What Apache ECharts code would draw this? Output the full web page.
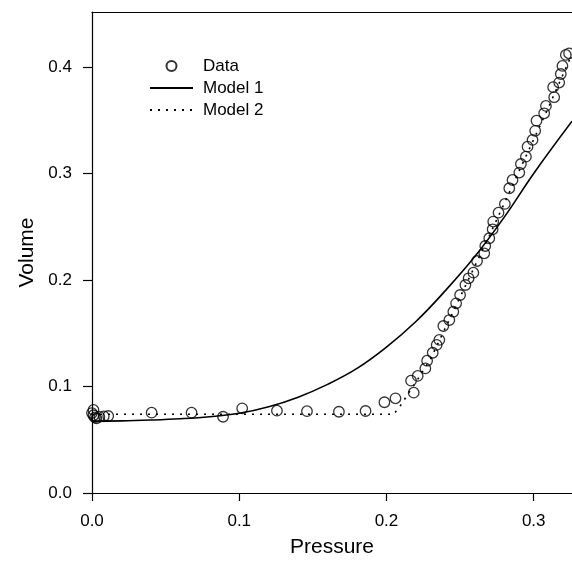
<!DOCTYPE html>
<html>
<head>
<meta charset="utf-8">
<script src="https://cdn.jsdelivr.net/npm/echarts@6/dist/echarts.min.js"></script>
<style>
  html, body { margin: 0; padding: 0; background: #fff; }
  #chart { width: 572px; height: 568px; }
</style>
</head>
<body>
<div id="chart"></div>
<script>
// measured data points (pressure, volume)
var dataP = [0.000, 0.001, 0.001, 0.002, 0.003, 0.005, 0.008, 0.011,
    0.0405, 0.0676, 0.089, 0.102, 0.1256, 0.146, 0.1677, 0.1858,
    0.1986, 0.2061, 0.2185, 0.2167, 0.2212, 0.2264, 0.2276, 0.2314,
    0.2341, 0.2359, 0.2386, 0.2427, 0.2454, 0.2473, 0.2500, 0.2536,
    0.2558, 0.2590, 0.2615, 0.2664, 0.2671, 0.2698, 0.2721, 0.2725,
    0.2761, 0.2804, 0.2834, 0.2856, 0.2902, 0.2913, 0.2947, 0.2958,
    0.2992, 0.3010, 0.3019, 0.3071, 0.3083, 0.3139, 0.3132, 0.3173,
    0.3184, 0.3195, 0.3218, 0.3240];
var dataV = [0.075, 0.078, 0.073, 0.071, 0.070, 0.0715, 0.072, 0.0723,
    0.0754, 0.0754, 0.0716, 0.0795, 0.0773, 0.0768, 0.0763, 0.077,
    0.0852, 0.0889, 0.0942, 0.1055, 0.1099, 0.117, 0.1242, 0.1317,
    0.139, 0.1437, 0.1568, 0.1624, 0.1702, 0.1781, 0.1859, 0.1953,
    0.2016, 0.2069, 0.2178, 0.2250, 0.2319, 0.2392, 0.2476, 0.2548,
    0.2632, 0.2714, 0.2861, 0.2939, 0.3008, 0.3089, 0.3158, 0.3252,
    0.3315, 0.3400, 0.3496, 0.3565, 0.3634, 0.3716, 0.3810, 0.3853,
    0.3934, 0.4010, 0.4113, 0.4128];

// Model 1 curve
var model1P = [0, 0.02, 0.04, 0.06, 0.08, 0.10, 0.12, 0.14, 0.16, 0.18,
    0.20, 0.22, 0.24, 0.26, 0.28, 0.30, 0.326];
var model1V = [0.0675, 0.0677, 0.0685, 0.0697, 0.0716, 0.0748, 0.081, 0.090,
    0.102, 0.117, 0.137, 0.161, 0.190, 0.222, 0.259, 0.300, 0.349];

// Model 2 curve
var model2P = [0, 0.205, 0.21, 0.215, 0.22, 0.23, 0.25, 0.27, 0.29, 0.31, 0.326];
var model2V = [0.074, 0.074, 0.083, 0.094, 0.104, 0.126, 0.184, 0.242, 0.302, 0.362, 0.412];

var xTicks = [0, 0.1, 0.2, 0.3];
var yTicks = [0, 0.1, 0.2, 0.3, 0.4];

function pairs(xs, ys) {
    return xs.map(function (x, i) { return [x, ys[i]]; });
}

var font = 'Liberation Sans, Arial, sans-serif';
var chart = echarts.init(document.getElementById('chart'));

var option = {
    animation: false,
    backgroundColor: '#fff',
    grid: { left: 92, top: 12, right: 0, bottom: 75 },
    legend: {
        orient: 'vertical',
        left: 144,
        top: 52,
        itemWidth: 43,
        itemHeight: 10,
        itemGap: 4,
        textStyle: { fontFamily: font, fontSize: 17, lineHeight: 18, color: '#000', padding: [0, 0, 0, 5] },
        data: [
            'Data',
            { name: 'Model 1', itemStyle: { opacity: 0 } },
            { name: 'Model 2', itemStyle: { opacity: 0 } }
        ]
    },
    xAxis: [{
        type: 'value',
        min: 0,
        max: 0.326,
        interval: 0.1,
        name: 'Pressure',
        nameLocation: 'middle',
        nameGap: 44,
        nameTextStyle: { fontFamily: font, fontSize: 21, color: '#000' },
        splitLine: { show: false },
        axisLine: { lineStyle: { color: '#000', width: 1.2 } },
        axisTick: { inside: false, length: 8, lineStyle: { color: '#000', width: 1.2 } },
        axisLabel: {
            fontFamily: font, fontSize: 17, color: '#000', margin: 20,
            showMaxLabel: false,
            formatter: function (v) {
                return xTicks.some(function (t) { return Math.abs(t - v) < 1e-9; }) ? v.toFixed(1) : '';
            }
        }
    }, {
        type: 'value',
        position: 'top',
        min: 0,
        max: 0.326,
        axisLine: { show: true, lineStyle: { color: '#000', width: 1.2 } },
        axisTick: { show: false },
        axisLabel: { show: false },
        splitLine: { show: false }
    }],
    yAxis: {
        type: 'value',
        min: 0,
        max: 0.4516,
        interval: 0.1,
        name: 'Volume',
        nameLocation: 'middle',
        nameGap: 51,
        nameTextStyle: { fontFamily: font, fontSize: 21, color: '#000' },
        splitLine: { show: false },
        axisLine: { show: true, lineStyle: { color: '#000', width: 1.2 } },
        axisTick: { show: true, length: 9, lineStyle: { color: '#000', width: 1.2 } },
        axisLabel: {
            fontFamily: font, fontSize: 17, color: '#000', margin: 20,
            showMaxLabel: false,
            formatter: function (v) {
                return yTicks.some(function (t) { return Math.abs(t - v) < 1e-9; }) ? v.toFixed(1) : '';
            }
        }
    },
    series: [{
        name: 'Model 1',
        type: 'line',
        data: pairs(model1P, model1V),
        smooth: 0.4,
        symbol: 'none',
        lineStyle: { color: '#000', width: 1.6 },
        itemStyle: { color: '#000' },
        z: 2
    }, {
        name: 'Model 2',
        type: 'line',
        data: pairs(model2P, model2V),
        symbol: 'none',
        lineStyle: { color: '#000', width: 1.6, type: [2, 6] },
        itemStyle: { color: '#000' },
        z: 2
    }, {
        name: 'Data',
        type: 'scatter',
        data: pairs(dataP, dataV),
        symbol: 'circle',
        symbolSize: 10.5,
        itemStyle: { color: 'rgba(0,0,0,0)', borderColor: '#000', borderWidth: 1.3 },
        z: 3
    }]
};

chart.setOption(option);
</script>
</body>
</html>
